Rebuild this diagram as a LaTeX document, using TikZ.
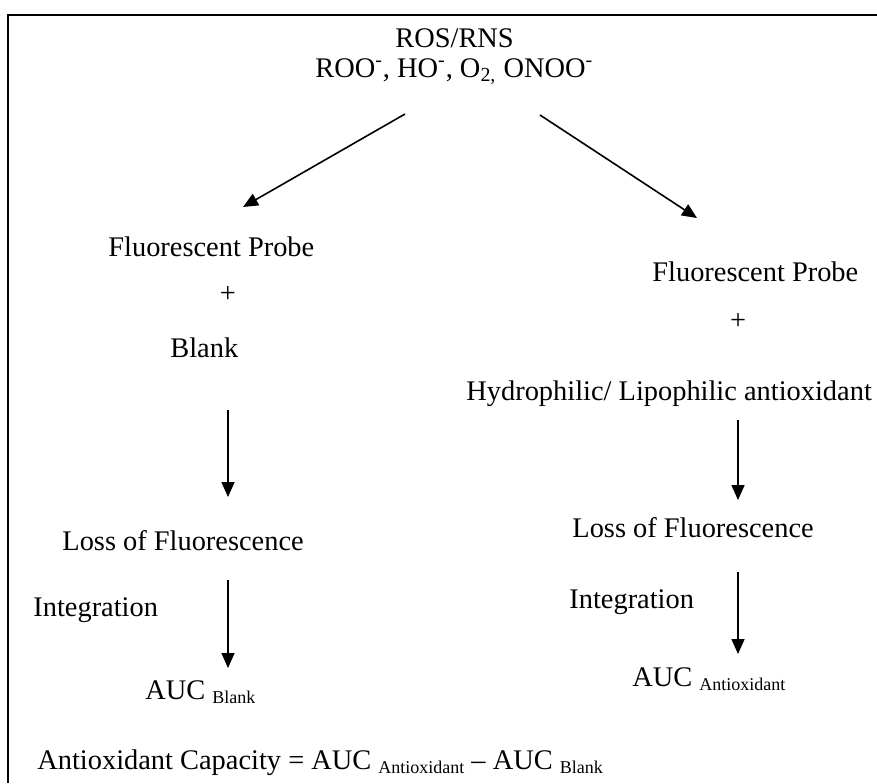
\documentclass[tikz,border=0pt]{standalone}
\usepackage{fontspec}
\setmainfont{Liberation Serif}
\usetikzlibrary{arrows.meta}
\newcommand{\lowtxt}[1]{\raisebox{-0.35ex}{\fontsize{9}{10}\selectfont #1}}

\begin{document}
\begin{tikzpicture}[x=0.5pt,y=-0.5pt,
  txt/.style={inner sep=0pt,anchor=base west,font=\fontsize{14.2}{17}\selectfont},
  arr/.style={line width=0.8pt,-{Triangle[length=7.5pt,width=6.5pt]}}]
\useasboundingbox (0,0) rectangle (877,783);
\draw[line width=1pt] (8,783) -- (8,15) -- (877,15);
% top
\node[txt] (ros) at (395,47) {ROS/RNS};
\node[txt] (species) at (315,77) {ROO\textsuperscript{-}, HO\textsuperscript{-}, O\textsubscript{2,} ONOO\textsuperscript{-}};
% left branch
\node[txt] (probeL) at (108,256) {Fluorescent Probe};
\node[txt,anchor=base] (plusL) at (228,302) {+};
\node[txt] (blank) at (170,357) {Blank};
\node[txt] (lossL) at (62,550) {Loss of Fluorescence};
\node[txt] (integL) at (33,616) {Integration};
\node[txt] (aucL) at (145,699) {AUC \lowtxt{Blank}};
% right branch
\node[txt] (probeR) at (652,281) {Fluorescent Probe};
\node[txt,anchor=base] (plusR) at (738,329) {+};
\node[txt] (hydro) at (466,400) {Hydrophilic/ Lipophilic antioxidant};
\node[txt] (lossR) at (572,537) {Loss of Fluorescence};
\node[txt] (integR) at (569,608) {Integration};
\node[txt] (aucR) at (632,686) {AUC \lowtxt{Antioxidant}};
% result
\node[txt] (capacity) at (37,769) {Antioxidant Capacity = AUC \lowtxt{Antioxidant} -- AUC \lowtxt{Blank}};
% arrows
\coordinate (splitL) at (405,114);
\coordinate (splitR) at (540,115);
\coordinate (inL) at (243,207);
\coordinate (inR) at (697,218);
\draw[arr] (splitL) -- (inL);
\draw[arr] (splitR) -- (inR);
\coordinate (blankOut) at (228,410);
\coordinate (lossLin) at (228,497);
\coordinate (lossLout) at (228,580);
\coordinate (aucLin) at (228,668);
\draw[arr] (blankOut) -- (lossLin);
\draw[arr] (lossLout) -- (aucLin);
\coordinate (hydroOut) at (738,420);
\coordinate (lossRin) at (738,500);
\coordinate (lossRout) at (738,572);
\coordinate (aucRin) at (738,654);
\draw[arr] (hydroOut) -- (lossRin);
\draw[arr] (lossRout) -- (aucRin);
\end{tikzpicture}
\end{document}
